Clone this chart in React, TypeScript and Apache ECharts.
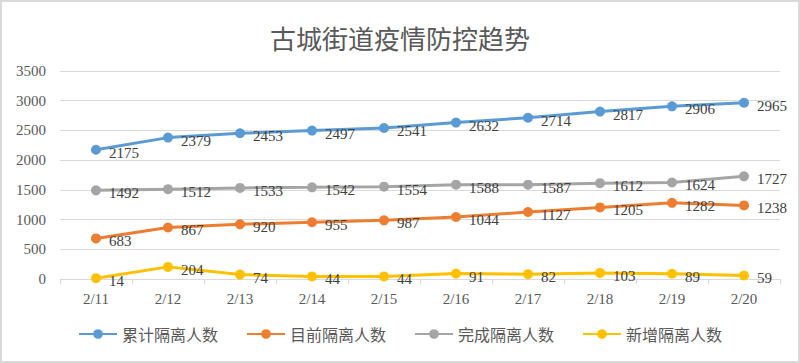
import React, { useEffect, useRef } from "react";
import * as echarts from "echarts";

const categories = ["2/11", "2/12", "2/13", "2/14", "2/15", "2/16", "2/17", "2/18", "2/19", "2/20"];
const totalIsolated = [2175, 2379, 2453, 2497, 2541, 2632, 2714, 2817, 2906, 2965];
const currentIsolated = [683, 867, 920, 955, 987, 1044, 1127, 1205, 1282, 1238];
const finishedIsolated = [1492, 1512, 1533, 1542, 1554, 1588, 1587, 1612, 1624, 1727];
const newIsolated = [14, 204, 74, 44, 44, 91, 82, 103, 89, 59];

const seriesNames = ["累计隔离人数", "目前隔离人数", "完成隔离人数", "新增隔离人数"];
const seriesColors = ["#5B9BD5", "#ED7D31", "#A5A5A5", "#FFC000"];
const seriesData = [totalIsolated, currentIsolated, finishedIsolated, newIsolated];

const serif = "Liberation Serif";

export default function App() {
  const ref = useRef<HTMLDivElement>(null);
  useEffect(() => {
    if (!ref.current) return;
    const chart = echarts.init(ref.current, null, { renderer: "svg" });
    chart.setOption({
      animation: false,
      backgroundColor: "#fff",
      textStyle: { fontFamily: serif },
      title: {
        text: "古城街道疫情防控趋势",
        left: "center",
        top: 17,
        textStyle: { fontFamily: "Noto Sans CJK SC", fontSize: 26, fontWeight: "normal", color: "#595959" },
      },
      legend: {
        bottom: 14,
        left: "center",
        itemWidth: 38,
        itemHeight: 12,
        itemGap: 28,
        textStyle: { fontSize: 16, color: "#595959", fontFamily: "Noto Sans CJK SC" },
        data: seriesNames,
      },
      grid: { left: 58, right: 18, top: 69, bottom: 82, containLabel: false },
      xAxis: {
        type: "category",
        data: categories,
        boundaryGap: true,
        axisLine: { lineStyle: { color: "#D9D9D9" } },
        axisTick: { show: true, length: 5, lineStyle: { color: "#D9D9D9" } },
        axisLabel: { fontFamily: serif, fontSize: 15, color: "#595959", margin: 12, interval: 0 },
      },
      yAxis: {
        type: "value",
        min: 0,
        max: 3500,
        interval: 500,
        axisLine: { show: false },
        axisTick: { show: false },
        splitLine: { lineStyle: { color: "#D9D9D9" } },
        axisLabel: { fontFamily: serif, fontSize: 15, color: "#595959", margin: 14, formatter: (v: number) => String(v) },
      },
      series: seriesNames.map((name, i) => ({
        name,
        type: "line",
        data: seriesData[i],
        symbol: "circle",
        symbolSize: 10,
        color: seriesColors[i],
        lineStyle: { width: 3, color: seriesColors[i] },
        itemStyle: { color: seriesColors[i] },
        label: {
          show: true,
          position: "right",
          distance: 8,
          offset: [0, 3],
          fontFamily: serif,
          fontSize: 15,
          color: "#404040",
        },
      })),
    });
    return () => chart.dispose();
  }, []);
  return (
    <div
      style={{ position: "absolute", left: 0, top: 0, width: 800, height: 363, boxSizing: "border-box", border: "2px solid #D9D9D9", background: "#fff" }}
    >
      <div ref={ref} style={{ width: 796, height: 359 }} />
    </div>
  );
}
